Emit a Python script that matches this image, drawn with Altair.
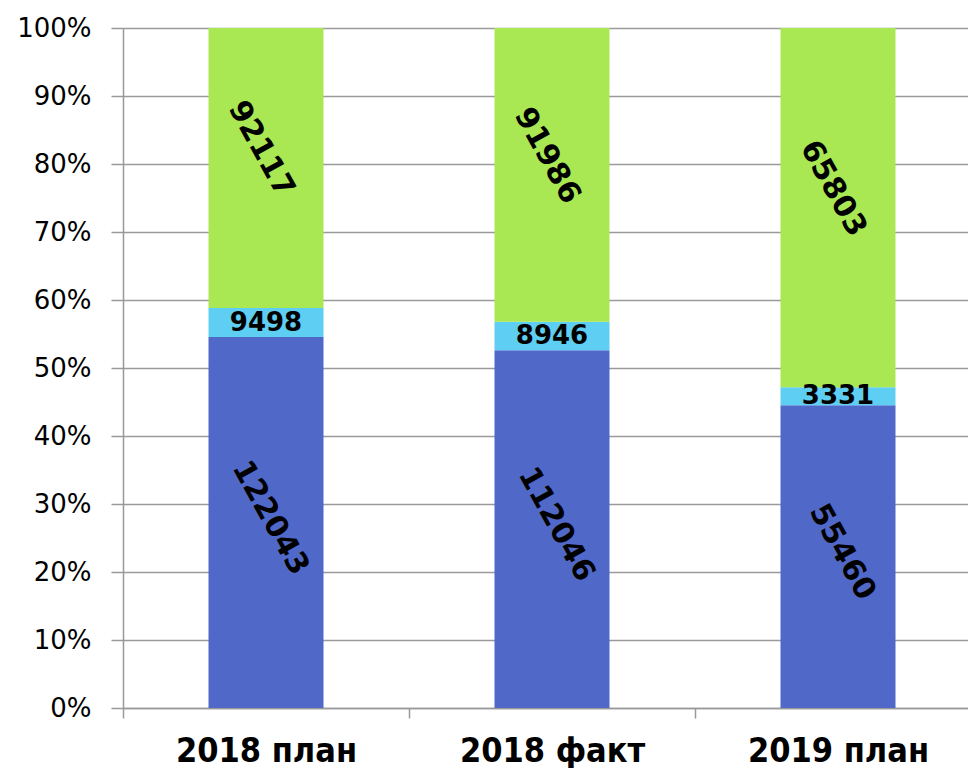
import altair as alt
import pandas as pd

categories = ["2018 план", "2018 факт", "2019 план"]
series_names = ["blue", "cyan", "green"]
blue_values = [122043, 112046, 55460]
cyan_values = [9498, 8946, 3331]
green_values = [92117, 91986, 65803]
colors = ["#5068C8", "#5ECFF2", "#A9E852"]
y_ticks = [i / 10 for i in range(11)]

rows = []
for i, cat in enumerate(categories):
    vals = [blue_values[i], cyan_values[i], green_values[i]]
    total = sum(vals)
    cum = 0.0
    for name, v in zip(series_names, vals):
        lo = cum / total
        cum += v
        hi = cum / total
        rows.append({"cat": cat, "series": name, "value": v,
                     "lo": lo, "hi": hi, "mid": (lo + hi) / 2})
df = pd.DataFrame(rows)

x_enc = alt.X("cat:N", sort=categories, title=None,
              scale=alt.Scale(range=[0, 858], paddingInner=0, paddingOuter=0),
              axis=alt.Axis(labelAngle=0, labelFont="DejaVu Sans Condensed",
                            labelFontWeight="bold", labelFontSize=34,
                            labelColor="black", labelPadding=16, labelLimit=0,
                            tickBand="extent", tickSize=10, tickColor="#999999",
                            tickWidth=1.5, domainColor="#999999", domainWidth=1.5,
                            grid=False))

y_scale = alt.Scale(domain=[0, 1], nice=False)

bars = alt.Chart(df).mark_bar(size=115).encode(
    x=x_enc,
    y=alt.Y("lo:Q", scale=y_scale, title=None,
            axis=alt.Axis(values=y_ticks, format=".0%", labelFont="DejaVu Sans",
                          labelFontSize=26, labelColor="black", labelPadding=20,
                          tickSize=12, tickColor="#999999", tickWidth=1.5,
                          domainColor="#999999", domainWidth=1.5,
                          grid=True, gridColor="#9a9a9a", gridWidth=1.5)),
    y2="hi:Q",
    color=alt.Color("series:N", scale=alt.Scale(domain=series_names, range=colors),
                    legend=None),
)

base_text = alt.Chart(df).encode(
    x=alt.X("cat:N", sort=categories),
    y=alt.Y("mid:Q", scale=y_scale),
    text=alt.Text("value:Q", format="d"),
)

small_labels = base_text.transform_filter(alt.datum.series == "cyan").mark_text(
    font="DejaVu Sans", fontWeight="bold", fontSize=26, color="black",
    align="center", baseline="middle")

green_labels = base_text.transform_filter(alt.datum.series == "green").mark_text(
    font="DejaVu Sans", fontWeight="bold", fontSize=30, color="black",
    align="center", baseline="middle", angle=61, dx=-19, dy=-5)

blue_labels = base_text.transform_filter(alt.datum.series == "blue").mark_text(
    font="DejaVu Sans", fontWeight="bold", fontSize=30, color="black",
    align="center", baseline="middle", angle=61, dx=-2, dy=-6)

chart = alt.layer(bars, small_labels, green_labels, blue_labels).properties(
    width=845, height=680, background="white",
    autosize=alt.AutoSizeParams(type="none"),
    padding={"left": 115, "top": 20, "right": 0, "bottom": 60},
).configure_view(stroke=None)

chart.save("out.html", embed_options={"renderer": "svg", "actions": False})
